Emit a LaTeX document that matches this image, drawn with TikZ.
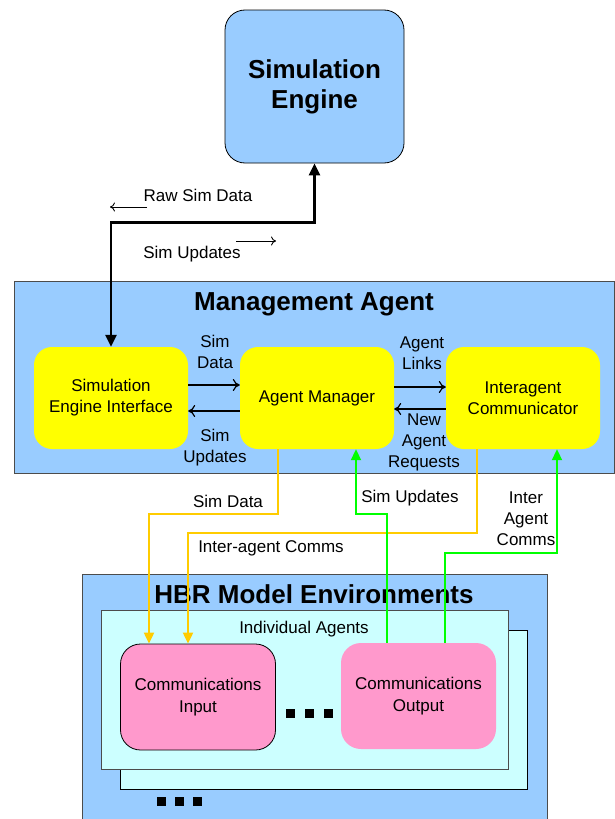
\documentclass[tikz,border=0pt]{standalone}
\usepackage{fontspec}
\setmainfont{Liberation Sans}
\usetikzlibrary{arrows.meta}
\definecolor{mablue}{HTML}{99CCFF}
\definecolor{myellow}{HTML}{FFFF00}
\definecolor{mcyan}{HTML}{CCFFFF}
\definecolor{mpink}{HTML}{FF99CC}
\definecolor{morange}{HTML}{FFCC00}
\definecolor{mgreen}{HTML}{00FF00}
\tikzset{
  lbl/.style={font=\fontsize{17}{21}\selectfont, align=center, inner sep=0pt},
  ybox/.style={fill=myellow, rounded corners=18pt, minimum width=154pt, minimum height=102pt, inner sep=0pt, align=center, font=\fontsize{17}{21}\selectfont},
  pbox/.style={fill=mpink, rounded corners=20pt, minimum width=155pt, minimum height=106pt, inner sep=0pt, align=center, font=\fontsize{17}{22}\selectfont},
  frame/.style={draw=black!70, line width=0.8pt},
  thinarr/.style={line width=0.9pt, -{To[length=5pt,width=9pt]}},
  midarr/.style={line width=1.2pt, -{To[length=7pt,width=12pt]}},
  yline/.style={draw=morange, line width=2pt, -{Triangle[length=11pt,width=10pt]}},
  gline/.style={draw=mgreen, line width=2pt, -{Triangle[length=11pt,width=10pt]}},
  sq/.style={fill=black, minimum size=9pt, inner sep=0pt}
}
\begin{document}
\begin{tikzpicture}[x=1pt,y=-1pt]
\useasboundingbox (0,0) rectangle (615,819);
% Simulation Engine
\node[draw=black, line width=0.8pt, fill=mablue, rounded corners=20pt, minimum width=179pt, minimum height=153pt, align=center, font=\fontsize{26}{30}\selectfont\bfseries] (se) at (314.5,86.5) {Simulation\\Engine};
% Management Agent
\node[frame, fill=mablue, minimum width=600pt, minimum height=192pt, inner sep=0pt] (ma) at (314,377) {};
\node[font=\fontsize{26}{30}\selectfont\bfseries, inner sep=0pt] (matitle) at (314,304) {Management Agent};
\node[ybox] (sei) at (111,398) {Simulation\\Engine Interface};
\node[ybox] (am) at (317,398) {Agent Manager};
\node[ybox] (ic) at (523,398) {Interagent\\Communicator};
% arrows between boxes
\draw[midarr] ([yshift=13pt]sei.east) -- ([yshift=13pt]am.west);
\draw[midarr] ([yshift=-13pt]am.west) -- ([yshift=-13pt]sei.east);
\draw[midarr] ([yshift=11pt]am.east) -- ([yshift=11pt]ic.west);
\draw[midarr] ([yshift=-11pt]ic.west) -- ([yshift=-11pt]am.east);
\node[lbl] (l1) at (215,352) {Sim\\Data};
\node[lbl] (l2) at (215,448) {Sim\\Updates};
\node[lbl] (l3) at (422,353) {Agent\\Links};
\node[lbl] (l4) at (424,442) {New\\Agent\\Requests};
% thick black link
\draw[line width=2.4pt, {Triangle[length=12pt,width=11pt]}-{Triangle[length=12pt,width=11pt]}] (se.south) -- ++(0,59) -| (sei.north);
\node[lbl] (raw) at (198,195) {Raw Sim Data};
\coordinate (r1) at (147,207);
\coordinate (r2) at (110,207);
\draw[thinarr] (r1) -- (r2);
\node[lbl] (upd) at (192,254) {Sim Updates};
\coordinate (u1) at (236,241);
\coordinate (u2) at (276,241);
\draw[thinarr] (u1) -- (u2);
% HBR
\node[frame, fill=mablue, minimum width=465pt, minimum height=250pt, inner sep=0pt] (hbr) at (314.5,699) {};
\node[font=\fontsize{26}{30}\selectfont\bfseries, inner sep=0pt] (hbrtitle) at (314,594) {HBR Model Environments};
\node[draw=black, line width=0.8pt, fill=mcyan, minimum width=407pt, minimum height=159pt, inner sep=0pt] (back) at (323.5,709.5) {};
\node[frame, fill=mcyan, minimum width=407pt, minimum height=159pt, inner sep=0pt] (front) at (304.5,689.5) {};
\node[lbl] (ia) at (304,629) {Individual Agents};
\node[pbox, draw=black, line width=0.8pt] (ci) at (198,697) {Communications\\Input};
\node[pbox] (co) at (418.5,696) {Communications\\Output};
\node[sq] (d1) at (290,713) {};
\node[sq] (d2) at (309,713) {};
\node[sq] (d3) at (328,713) {};
\node[sq] (e1) at (161,801) {};
\node[sq] (e2) at (179,801) {};
\node[sq] (e3) at (197,801) {};
% yellow lines
\draw[yline] ([xshift=-39pt]am.south) -- ++(0,65) -| ([xshift=-49pt]ci.north);
\draw[yline] ([xshift=-46pt]ic.south) -- ++(0,84) -| ([xshift=-10pt]ci.north);
% green lines
\draw[gline] ([xshift=-31.5pt]co.north) -- ++(0,-129) -| ([xshift=39pt]am.south);
\draw[gline] ([xshift=26.5pt]co.north) -- ++(0,-90) -| ([xshift=34pt]ic.south);
\node[lbl] (sd) at (228,501) {Sim Data};
\node[lbl] (iac) at (271,548) {Inter-agent Comms};
\node[lbl] (su) at (410,498) {Sim Updates};
\node[lbl] (iac2) at (526,519) {Inter\\Agent\\Comms};
\end{tikzpicture}
\end{document}
